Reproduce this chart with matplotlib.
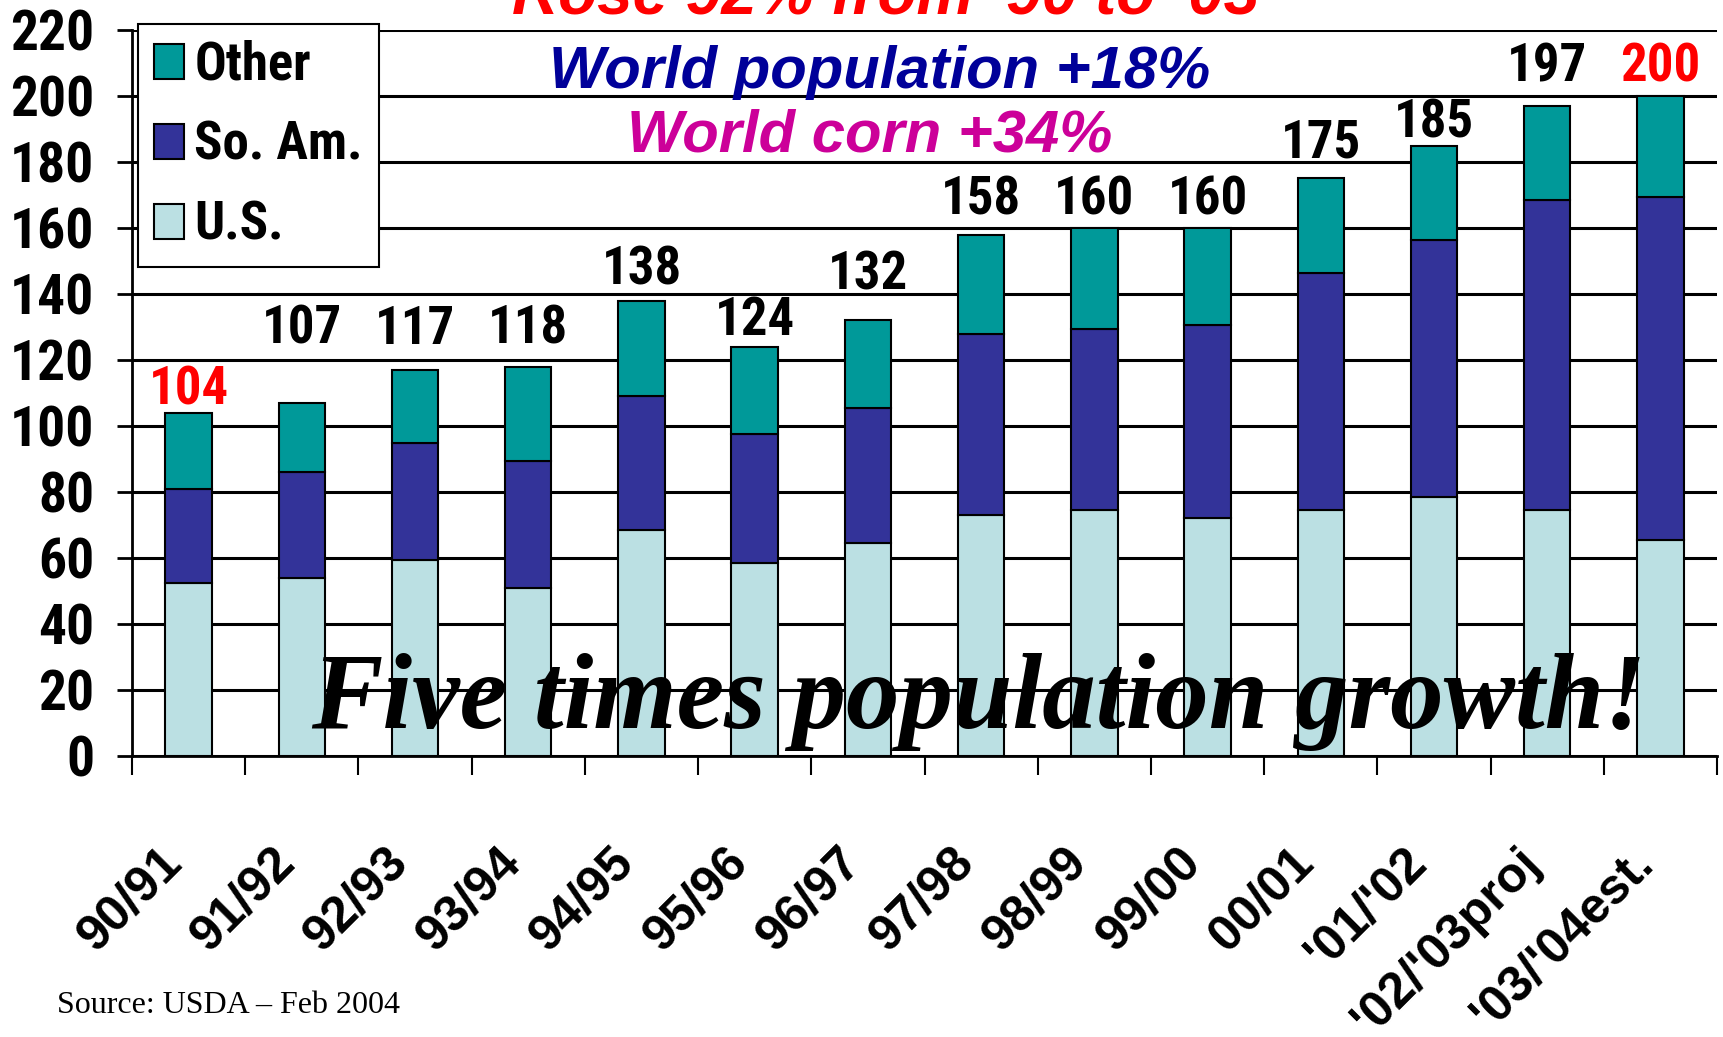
import matplotlib
matplotlib.use("Agg")
import matplotlib.pyplot as plt
from matplotlib.transforms import ScaledTranslation
import numpy as np

# corn exports by season (mil. tonnes)
seasons = ["90/91", "91/92", "92/93", "93/94", "94/95", "95/96", "96/97",
           "97/98", "98/99", "99/00", "00/01", "'01/'02", "'02/'03proj",
           "'03/'04est."]
us = [52.5, 54, 59.5, 51, 68.5, 58.5, 64.5, 73, 74.5, 72, 74.5, 78.5, 74.5, 65.5]
so_am = [28.5, 32, 35.5, 38.5, 40.5, 39, 41, 55, 55, 58.5, 72, 78, 94, 104]
other = [23, 21, 22, 28.5, 29, 26.5, 26.5, 30, 30.5, 29.5, 28.5, 28.5, 28.5, 30.5]
red_labels = [0, 13]  # first and last total are highlighted

W, H = 1723, 1037
narrow = ["Liberation Sans Narrow", "Roboto Condensed", "Liberation Sans", "DejaVu Sans"]
arial = ["Liberation Sans", "DejaVu Sans"]
times = ["Liberation Serif", "DejaVu Serif"]

c_other = "#009999"
c_soam = "#333399"
c_us = "#BBE0E3"

fig = plt.figure(figsize=(W / 100, H / 100), dpi=100)
ax = fig.add_axes([132 / W, 1 - 756 / H, (1717 - 132) / W, (756 - 30) / H])

x = np.arange(len(seasons))
us_a = np.array(us)
soam_a = np.array(so_am)
other_a = np.array(other)
totals = us_a + soam_a + other_a

bw = 0.41
b_us = ax.bar(x, us_a, bw, color=c_us, edgecolor="black", linewidth=1.5)
b_soam = ax.bar(x, soam_a, bw, bottom=us_a, color=c_soam, edgecolor="black", linewidth=1.5)
b_other = ax.bar(x, other_a, bw, bottom=us_a + soam_a, color=c_other, edgecolor="black", linewidth=1.5)

# total labels were placed by hand on the slide, so keep their heights
label_y = [106.5, 125, 125, 125, 143, 127.5, 141.5, 164, 164, 164, 181.5, 187.5, 204.5, 204.5]
for i, t in enumerate(totals):
    col = "red" if i in red_labels else "black"
    ax.text(x[i], label_y[i], f"{t:.0f}", ha="center", va="baseline",
            fontsize=38, fontweight="bold", family=narrow, color=col)

ax.set_xlim(-0.5, len(seasons) - 0.5)
ax.set_ylim(0, 220)
ax.set_yticks(np.arange(0, 221, 20))
ax.yaxis.grid(True, color="black", linewidth=2.2)
ax.set_axisbelow(True)

ax.set_xticks(x)
ax.set_xticklabels(seasons, rotation=45, ha="right", va="top", rotation_mode="anchor",
                   fontsize=36, fontweight="bold", family=arial)
ax.set_xticks(np.arange(-0.5, len(seasons)), minor=True)
ax.tick_params(axis="x", which="major", length=0, pad=60)
ax.tick_params(axis="x", which="minor", length=14, width=1.5, color="black")
ax.tick_params(axis="y", length=11, width=2, pad=16)
shift = ScaledTranslation(-31 / 100, 0, fig.dpi_scale_trans)
for lab in ax.get_xticklabels():
    lab.set_transform(lab.get_transform() + shift)
for lab in ax.get_yticklabels():
    lab.set_fontsize(40)
    lab.set_fontweight("bold")
    lab.set_family(narrow)

for s in ["top", "right"]:
    ax.spines[s].set_visible(False)
ax.spines["left"].set_linewidth(2)
ax.spines["bottom"].set_linewidth(2)

leg = ax.legend([b_other, b_soam, b_us], ["Other", "So. Am.", "U.S."],
                loc="upper left", bbox_to_anchor=(138 / W, 1 - 24 / H),
                bbox_transform=fig.transFigure, borderaxespad=0,
                fancybox=False, framealpha=1, edgecolor="black",
                handlelength=0.57, handleheight=0.66, handletextpad=0.2,
                labelspacing=0.55, borderpad=0.3,
                prop={"family": narrow, "weight": "bold", "size": 38})
leg.get_frame().set_linewidth(1.5)

fig.text(886 / W, 1 - 14 / H, "Rose 92% from '90 to '03", ha="center", va="baseline",
         fontsize=46, fontweight="bold", style="italic", family=arial, color="#FF0000")
fig.text(880 / W, 1 - 88 / H, "World population +18%", ha="center", va="baseline",
         fontsize=43, fontweight="bold", style="italic", family=arial, color="#000099")
fig.text(870 / W, 1 - 152 / H, "World corn +34%", ha="center", va="baseline",
         fontsize=43, fontweight="bold", style="italic", family=arial, color="#CC0099")
fig.text(979 / W, 1 - 728 / H, "Five times population growth!", ha="center", va="baseline",
         fontsize=77, fontweight="bold", style="italic", family=times, color="black")
fig.text(57 / W, 1 - 1013 / H, "Source: USDA \u2013 Feb 2004", ha="left", va="baseline",
         fontsize=23, family=times, color="black")

fig.savefig("out.png", dpi=100)
